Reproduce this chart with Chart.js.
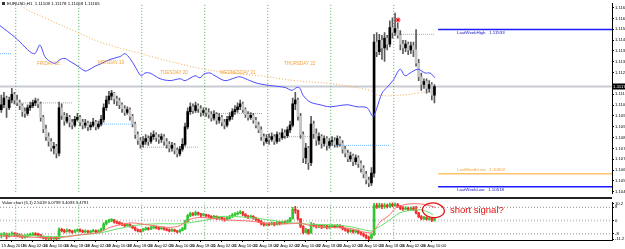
<!DOCTYPE html>
<html>
<head>
<meta charset="utf-8">
<script src="https://cdn.jsdelivr.net/npm/chart.js@4.4.0/dist/chart.umd.min.js"></script>
<style>
  html, body { margin: 0; padding: 0; background: #fff; }
  #wrap { width: 625px; height: 249px; overflow: hidden; }
  canvas { display: block; }
  #sep { width: 612px; height: 2px; background: #222; }
</style>
</head>
<body>
<div id="wrap">
  <canvas id="main" width="625" height="197"></canvas>
  <div id="sep"></div>
  <canvas id="sub" width="625" height="50"></canvas>
</div>
<script>
// --- EURUSD H1 candles, 15 Aug 18:00 -> 26 Aug 15:00 --- //
const opens = [1.11016,1.11047,1.11090,1.11028,1.11078,1.11115,1.11078,1.11059,1.11041,1.11003,1.10991,1.11028,1.11041,1.11059,1.11072,
  1.11053,1.10966,1.10891,1.10841,1.10810,1.10767,1.10779,1.10735,1.11028,1.10978,1.10941,1.10966,1.10935,1.10916,1.10953,
  1.10966,1.10935,1.10916,1.10928,1.10904,1.10916,1.10935,1.10904,1.10922,1.10953,1.11028,1.11078,1.11103,1.11122,1.11084,1.11072,1.11047,1.11022,1.10997,1.11016,1.10972,1.10922,1.10854,1.10816,
  1.10791,1.10810,1.10829,1.10810,1.10841,1.10854,1.10835,1.10823,1.10841,1.10810,1.10791,1.10767,1.10785,1.10754,1.10729,1.10760,1.10791,1.10904,1.11003,1.11034,1.11010,1.11041,1.11022,1.10997,
  1.11010,1.10997,1.10985,1.10960,1.10985,1.10947,1.10966,1.10935,1.10916,1.10953,1.10972,1.11003,1.11016,1.11034,1.11053,1.11016,1.10985,1.10966,1.10978,1.10947,1.10916,1.10885,1.10841,1.10810,
  1.10829,1.10823,1.10841,1.10810,1.10854,1.10835,1.10866,1.10847,1.10885,1.10916,1.11053,1.11078,1.10972,1.10854,1.10704,1.10767,1.10673,1.10922,1.10860,1.10816,1.10841,1.10798,1.10829,1.10785,
  1.10810,1.10816,1.10791,1.10829,1.10798,1.10760,1.10735,1.10698,1.10717,1.10679,1.10704,1.10667,1.10636,1.10598,1.10561,1.10542,1.10605,1.11452,1.11390,1.11464,1.11414,1.11477,1.11439,1.11545,
  1.11514,1.11539,1.11495,1.11439,1.11414,1.11439,1.11402,1.11427,1.11402,1.11315,1.11228,1.11178,1.11196,1.11153,1.11178,1.11109];
const highs = [1.11109,1.11128,1.11103,1.11097,1.11153,1.11128,1.11109,1.11078,1.11053,1.11028,1.11047,1.11065,1.11078,1.11090,1.11084,
  1.11065,1.10978,1.10916,1.10866,1.10829,1.10804,1.10791,1.11065,1.11053,1.10997,1.10991,1.10978,1.10953,1.10972,1.10991,
  1.10978,1.10953,1.10953,1.10941,1.10935,1.10960,1.10947,1.10941,1.10978,1.11053,1.11103,1.11134,1.11140,1.11128,1.11103,1.11090,1.11059,1.11041,1.11034,1.11028,1.10985,1.10935,1.10872,1.10835,
  1.10841,1.10854,1.10847,1.10866,1.10879,1.10866,1.10854,1.10860,1.10854,1.10829,1.10810,1.10804,1.10798,1.10767,1.10779,1.10829,1.10928,1.11028,1.11059,1.11053,1.11065,1.11053,1.11041,1.11028,
  1.11028,1.11022,1.11003,1.11010,1.10997,1.10991,1.10978,1.10953,1.10972,1.10997,1.11022,1.11041,1.11059,1.11078,1.11065,1.11028,1.11003,1.10997,1.10991,1.10966,1.10935,1.10904,1.10860,1.10854,
  1.10860,1.10866,1.10854,1.10872,1.10866,1.10891,1.10885,1.10904,1.10941,1.11090,1.11128,1.11090,1.10991,1.10872,1.10798,1.10779,1.10972,1.10941,1.10891,1.10866,1.10854,1.10847,1.10841,1.10829,
  1.10841,1.10835,1.10847,1.10841,1.10816,1.10779,1.10754,1.10742,1.10729,1.10723,1.10717,1.10685,1.10654,1.10617,1.10580,1.10642,1.11502,1.11514,1.11502,1.11495,1.11514,1.11495,1.11589,1.11608,
  1.11639,1.11576,1.11527,1.11464,1.11464,1.11452,1.11452,1.11452,1.11533,1.11340,1.11252,1.11215,1.11215,1.11203,1.11190,1.11178];
const lows = [1.10997,1.11028,1.10966,1.11016,1.11059,1.11053,1.11041,1.11016,1.10972,1.10966,1.10978,1.11010,1.11028,1.11041,1.11028,
  1.10941,1.10866,1.10816,1.10779,1.10748,1.10729,1.10704,1.10717,1.10953,1.10916,1.10928,1.10904,1.10891,1.10904,1.10941,
  1.10910,1.10891,1.10897,1.10879,1.10885,1.10904,1.10885,1.10891,1.10910,1.10935,1.11010,1.11053,1.11078,1.11053,1.11041,1.11022,1.10997,1.10978,1.10985,1.10947,1.10904,1.10829,1.10791,1.10767,
  1.10773,1.10791,1.10785,1.10798,1.10823,1.10810,1.10798,1.10804,1.10785,1.10767,1.10742,1.10748,1.10729,1.10710,1.10717,1.10748,1.10779,1.10891,1.10985,1.10991,1.10997,1.10997,1.10972,1.10978,
  1.10972,1.10960,1.10941,1.10947,1.10922,1.10928,1.10910,1.10891,1.10904,1.10941,1.10953,1.10985,1.10997,1.11016,1.10997,1.10966,1.10947,1.10953,1.10928,1.10897,1.10866,1.10816,1.10785,1.10798,
  1.10791,1.10810,1.10791,1.10798,1.10810,1.10823,1.10829,1.10835,1.10866,1.10904,1.11016,1.10947,1.10829,1.10673,1.10667,1.10629,1.10654,1.10829,1.10785,1.10791,1.10767,1.10779,1.10754,1.10767,
  1.10785,1.10773,1.10773,1.10779,1.10735,1.10710,1.10679,1.10679,1.10654,1.10661,1.10642,1.10611,1.10574,1.10536,1.10518,1.10524,1.10580,1.11358,1.11371,1.11340,1.11327,1.11402,1.11421,1.11477,
  1.11495,1.11477,1.11402,1.11377,1.11390,1.11371,1.11377,1.11358,1.11296,1.11203,1.11140,1.11153,1.11122,1.11128,1.11078,1.11059];
const closes = [1.11047,1.11090,1.11028,1.11078,1.11115,1.11078,1.11059,1.11041,1.11003,1.10991,1.11028,1.11041,1.11059,1.11072,1.11053,
  1.10966,1.10891,1.10841,1.10810,1.10767,1.10779,1.10735,1.11028,1.10978,1.10941,1.10966,1.10935,1.10916,1.10953,1.10966,
  1.10935,1.10916,1.10928,1.10904,1.10916,1.10935,1.10904,1.10922,1.10953,1.11028,1.11078,1.11103,1.11122,1.11084,1.11072,1.11047,1.11022,1.10997,1.11016,1.10972,1.10922,1.10854,1.10816,1.10791,
  1.10810,1.10829,1.10810,1.10841,1.10854,1.10835,1.10823,1.10841,1.10810,1.10791,1.10767,1.10785,1.10754,1.10729,1.10760,1.10791,1.10904,1.11003,1.11034,1.11010,1.11041,1.11022,1.10997,1.11010,
  1.10997,1.10985,1.10960,1.10985,1.10947,1.10966,1.10935,1.10916,1.10953,1.10972,1.11003,1.11016,1.11034,1.11053,1.11016,1.10985,1.10966,1.10978,1.10947,1.10916,1.10885,1.10841,1.10810,1.10829,
  1.10823,1.10841,1.10810,1.10854,1.10835,1.10866,1.10847,1.10885,1.10916,1.11053,1.11078,1.10972,1.10854,1.10704,1.10767,1.10673,1.10922,1.10860,1.10816,1.10841,1.10798,1.10829,1.10785,1.10810,
  1.10816,1.10791,1.10829,1.10798,1.10760,1.10735,1.10698,1.10717,1.10679,1.10704,1.10667,1.10636,1.10598,1.10561,1.10542,1.10605,1.11452,1.11390,1.11464,1.11414,1.11477,1.11439,1.11545,1.11514,
  1.11539,1.11495,1.11439,1.11414,1.11439,1.11402,1.11427,1.11402,1.11315,1.11228,1.11178,1.11196,1.11153,1.11178,1.11109,1.11165];

// moving averages (bar index, price)
const maBlueX = [-0.5,5.2,7.1,10.9,12.8,14.7,16.6,18.5,20.5,22.4,24.3,26.2,29.2,31.9,33.8,35.7,37.6,41.4,45.2,47.1,49.0,50.9,53.2,54.7,56.6,60.5,64.3,68.1,70.0,73.8,75.7,77.2,79.5,81.4,85.2,89.0,90.9,94.7,97.8,102.4,108.1,110.7,112.6,113.8,114.9,117.6,121.4,125.2,131.7,135.5,139.3,141.6,143.1,145.0,146.9,149.2,151.9,153.8,155.7,158.7,161.4,163.3,165.2];
const maBlueY = [1.11558,1.11483,1.11452,1.11390,1.11377,1.11433,1.11358,1.11327,1.11315,1.11340,1.11346,1.11327,1.11296,1.11265,1.11277,1.11296,1.11309,1.11340,1.11358,1.11377,1.11346,1.11296,1.11234,1.11252,1.11252,1.11215,1.11203,1.11215,1.11203,1.11234,1.11221,1.11246,1.11252,1.11234,1.11203,1.11221,1.11228,1.11203,1.11184,1.11171,1.11159,1.11140,1.11159,1.11153,1.11109,1.11065,1.11047,1.11034,1.11047,1.11034,1.11028,1.10972,1.11028,1.11122,1.11159,1.11203,1.11277,1.11234,1.11252,1.11277,1.11252,1.11252,1.11221];
const maOrangeX = [-0.5,9.0,16.6,29.2,37.6,53.2,64.3,77.2,87.1,98.5,111.9,125.2,140.5,143.5,151.9,158.7,163.3];
const maOrangeY = [1.11794,1.11670,1.11608,1.11514,1.11452,1.11377,1.11327,1.11277,1.11252,1.11234,1.11203,1.11184,1.11140,1.11109,1.11109,1.11122,1.11128];

// previous-day levels (dotted), weekly / monthly levels
const pivotFrom = [-0.5,5.2,30.7,53.2,77.6,101.2,125.2,150.0];
const pivotTo = [3.7,27.3,50.9,75.3,99.3,121.4,148.1,165.2];
const pivotPrice = [1.11377,1.11059,1.10922,1.10773,1.10991,1.10841,1.10785,1.11502];
const levelNames = ['LastWeekHigh', 'LastMonthLow', 'LastWeekLow'];
const levelPrices = [1.11533, 1.10602, 1.10518];
const dayNames = ['FRIDAY 16', 'MONDAY 19', 'TUESDAY 20', 'WEDNESDAY 21', 'THURSDAY 22'];
const dayNameX = [13.6, 36.8, 60.5, 83.3, 107.7];
const dayNameY = [1.11309, 1.11321, 1.11252, 1.11252, 1.11315];
const daySeparators = [5.5, 29.5, 53.5, 77.5, 101.5, 125.5, 149.5];
const fractalX = [151.1];
const fractalY = [1.11595];

const priceTicks = [1.11675,1.11605,1.11535,1.11465,1.11395,1.11325,1.11255,1.11115,1.11045,1.10975,1.10905,1.10835,1.10765,1.10695,1.10625,1.10555,1.10485];
const timeTicks = [0,8,16,24,32,40,48,56,64,72,80,88,96,104,112,120,128,136,144,152,160];
const timeLabels = ['15 Aug 2019','16 Aug 02:00','16 Aug 10:00','16 Aug 18:00','19 Aug 02:00','19 Aug 10:00','19 Aug 18:00',
  '20 Aug 02:00','20 Aug 10:00','20 Aug 18:00','21 Aug 02:00','21 Aug 10:00','21 Aug 18:00','22 Aug 02:00','22 Aug 10:00',
  '22 Aug 18:00','23 Aug 02:00','23 Aug 10:00','23 Aug 18:00','26 Aug 02:00','26 Aug 10:00'];

// --- Value chart sub window --- //
const vcOpen = [-9,-8.5,-8,-9.5,-8.5,-7.8,-8.6,-8.8,-9.2,-9.8,-9.5,-8.7,-8.4,-8.0,-8.2,
  -8.6,-9.8,-10.4,-10.6,-10.2,-10.8,-10.3,-10.9,-5.2,-6.0,-6.6,-5.8,-6.4,-6.9,-6.0,
  -5.6,-6.2,-6.6,-6.3,-6.9,-6.5,-6.0,-6.7,-6.2,-5.2,-2.0,-0.6,0.1,0.4,-0.8,-1.2,-1.9,-2.4,-3.0,-2.4,-3.3,-4.2,-5.6,-6.1,
  -6.3,-5.4,-4.6,-5.0,-4.2,-3.8,-4.4,-4.8,-4.3,-5.1,-5.6,-6.2,-5.6,-6.3,-6.8,-5.9,-4.8,-0.5,3.0,4.2,3.6,4.8,4.1,3.2,
  3.6,3.0,2.6,1.8,2.5,1.4,1.9,1.0,0.5,1.6,2.4,3.4,3.9,4.6,5.2,3.8,2.6,2.0,2.6,1.6,0.6,-0.4,-1.8,-2.6,
  -2.0,-2.2,-1.5,-2.4,-1.2,-1.8,-0.8,-1.4,-0.4,1.2,6.8,6.2,1.0,-3.4,-7.2,-5.6,-7.4,-2.2,-3.0,-3.8,-3.0,-4.0,-3.2,-4.2,
  -3.4,-3.0,-3.8,-2.8,-3.6,-4.8,-5.6,-6.6,-5.8,-6.8,-6.0,-7.2,-8.0,-9.0,-10.2,-10.6,-8.6,9.0,8.2,9.4,8.4,9.2,8.6,9.8,
  9.0,9.6,8.6,7.4,7.0,7.6,6.8,7.4,6.8,4.6,2.4,1.2,1.8,0.8,1.4,0.2];
const vcHigh = [-7.5,-7,-7.5,-7.5,-6.8,-7.2,-7.5,-8,-8.6,-8.5,-8,-7.6,-7.2,-7.3,-7.6,
  -8.3,-9.2,-9.6,-9.4,-9.6,-9.7,-9.8,-4.3,-4.6,-5.3,-5.0,-5.2,-5.8,-5.4,-4.9,
  -5.0,-5.5,-5.6,-5.8,-5.9,-5.3,-5.6,-5.6,-4.5,-1.2,0.2,0.9,1.2,0.6,-0.2,-0.6,-1.2,-1.8,-1.9,-2.0,-2.8,-3.8,-5.0,-5.3,
  -4.6,-3.9,-4.0,-3.4,-3.0,-3.3,-3.9,-3.6,-3.9,-4.6,-5.0,-4.8,-5.1,-5.8,-5.2,-4.0,0.3,3.8,5.2,4.8,5.8,5.2,4.4,4.4,
  4.0,3.6,3.0,3.2,2.8,2.6,2.2,1.6,2.4,3.2,4.2,4.8,5.4,6.0,5.6,4.2,3.2,3.4,3.0,2.0,1.2,0.2,-1.0,-1.4,
  -1.2,-0.8,-1.0,-0.5,-0.6,0.0,-0.2,0.4,2.0,8.0,8.6,6.4,1.2,-3.0,-4.6,-5.2,-1.0,-1.6,-2.4,-2.4,-2.6,-2.6,-2.8,-2.8,
  -2.4,-2.6,-2.2,-2.4,-3.2,-4.2,-5.0,-5.2,-5.4,-5.4,-5.6,-6.6,-7.4,-8.4,-9.4,-7.8,10.6,10.4,10.6,10.2,10.4,10.0,10.8,10.8,
  10.8,10.4,9.2,8.4,8.4,8.2,8.2,8.4,8.6,5.0,3.0,2.6,2.4,2.2,1.8,1.6];
const vcLow = [-10.5,-9.5,-11,-10,-9,-9.5,-9.8,-10.2,-10.8,-10.6,-10,-9.4,-9,-9,-9.4,
  -10.5,-11,-11.3,-11.5,-11.6,-11.4,-11.7,-11.2,-6.8,-7.4,-7.0,-7.2,-7.7,-7.3,-6.5,
  -6.9,-7.3,-7.1,-7.6,-7.3,-6.9,-7.4,-7.0,-6.6,-5.6,-2.6,-1.2,-0.6,-1.6,-2.0,-2.6,-3.1,-3.6,-3.4,-4.0,-4.8,-6.3,-6.8,-7.0,
  -6.6,-5.8,-5.7,-5.4,-4.7,-5.0,-5.6,-5.3,-5.8,-6.2,-6.9,-6.5,-6.9,-7.4,-7.1,-6.2,-5.4,-0.9,2.4,2.8,3.0,3.3,2.4,2.6,
  2.2,1.8,1.0,1.2,0.6,0.8,0.2,-0.4,0.0,1.0,1.8,2.8,3.4,4.0,3.0,1.8,1.2,1.4,0.8,-0.2,-1.2,-2.6,-3.4,-3.0,
  -3.0,-2.6,-3.2,-2.8,-2.6,-2.2,-2.0,-1.8,-0.8,0.8,4.4,0.2,-4.2,-8.0,-7.6,-8.4,-7.8,-3.8,-4.6,-4.2,-4.8,-4.4,-5.0,-4.8,
  -4.0,-4.4,-4.2,-4.4,-5.6,-6.4,-7.4,-7.2,-7.6,-7.4,-8.0,-8.8,-9.8,-11.0,-11.6,-11.2,-9.0,7.4,7.6,7.2,7.4,7.6,8.0,8.2,
  8.6,7.8,6.6,6.2,6.4,6.0,6.2,6.0,4.0,1.8,0.4,0.6,0.0,0.2,-0.6,-0.4];
const vcClose = [-8.5,-8,-9.5,-8.5,-7.8,-8.6,-8.8,-9.2,-9.8,-9.5,-8.7,-8.4,-8.0,-8.2,-8.6,
  -9.8,-10.4,-10.6,-10.2,-10.8,-10.3,-10.9,-5.2,-6.0,-6.6,-5.8,-6.4,-6.9,-6.0,-5.6,
  -6.2,-6.6,-6.3,-6.9,-6.5,-6.0,-6.7,-6.2,-5.2,-2.0,-0.6,0.1,0.4,-0.8,-1.2,-1.9,-2.4,-3.0,-2.4,-3.3,-4.2,-5.6,-6.1,-6.3,
  -5.4,-4.6,-5.0,-4.2,-3.8,-4.4,-4.8,-4.3,-5.1,-5.6,-6.2,-5.6,-6.3,-6.8,-5.9,-4.8,-0.5,3.0,4.2,3.6,4.8,4.1,3.2,3.6,
  3.0,2.6,1.8,2.5,1.4,1.9,1.0,0.5,1.6,2.4,3.4,3.9,4.6,5.2,3.8,2.6,2.0,2.6,1.6,0.6,-0.4,-1.8,-2.6,-2.0,
  -2.2,-1.5,-2.4,-1.2,-1.8,-0.8,-1.4,-0.4,1.2,6.8,6.2,1.0,-3.4,-7.2,-5.6,-7.4,-2.2,-3.0,-3.8,-3.0,-4.0,-3.2,-4.2,-3.4,
  -3.0,-3.8,-2.8,-3.6,-4.8,-5.6,-6.6,-5.8,-6.8,-6.0,-7.2,-8.0,-9.0,-10.2,-10.6,-8.6,9.0,8.2,9.4,8.4,9.2,8.6,9.8,9.0,
  9.6,8.6,7.4,7.0,7.6,6.8,7.4,6.8,4.6,2.4,1.2,1.8,0.8,1.4,0.2,1.0];
const vcFastX = [-0.5,7.1,14.7,22.4,30.0,37.6,41.4,49.0,52.8,60.5,64.3,68.1,71.9,75.7,79.5,87.1,94.7,102.4,110.0,113.8,117.6,125.2,132.8,136.6,140.5,142.4,144.3,148.1,150.0,153.8,157.6,161.4,165.2];
const vcFastY = [-9.1,-9.7,-10.2,-10.2,-8.6,-6.9,-4.1,-1.4,-1.9,-3.6,-4.1,-3.0,0.8,1.9,1.4,0.3,-0.3,-1.9,-1.9,-1.4,-3.0,-4.1,-4.7,-6.3,-7.4,-5.2,-0.8,3.6,7.4,9.7,10.2,9.7,8.0];
const vcSlowX = [-0.5,10.9,22.4,30.0,37.6,45.2,52.8,60.5,68.1,73.8,79.5,83.3,94.7,102.4,113.8,125.2,132.8,140.5,142.4,146.9,151.9,156.8,160.6,164.5];
const vcSlowY = [-8.0,-9.1,-9.7,-8.6,-7.4,-4.7,-2.5,-1.9,-1.9,-0.8,0.8,2.5,1.9,0.3,-1.9,-2.5,-3.6,-6.3,-5.2,-0.8,4.7,6.3,6.3,3.6];
const vcLevels = [8, 0, -8];
const vcTicks = [10.2, 8, 0, -8, -11.2];

const X_MIN = -0.5, X_MAX = 232.64;
const bars = closes.map((_, i) => i);
const pts = (xs, ys) => xs.map((x, k) => ({ x, y: ys[k] }));
const hline = (from, to, y) => [{ x: from, y }, { x: to, y }];
const font = (size) => ({ family: 'Liberation Sans', size });

const lineDs = (data, color, extra) => Object.assign({
    type: 'line', data, borderColor: color, borderWidth: 1, pointRadius: 0, pointHoverRadius: 0, fill: false, tension: 0
}, extra);

// --- Main price window --- //
const mainSets = [];
mainSets.push(lineDs(hline(X_MIN, X_MAX, closes[closes.length - 1]), '#c9ccd3', { borderWidth: 2, order: 20 }));
daySeparators.forEach(s => mainSets.push(lineDs([{ x: s, y: 1.10 }, { x: s, y: 1.12 }], '#4caf50', { borderDash: [1, 2], order: 19 })));
pivotPrice.forEach((p, k) => mainSets.push(lineDs(hline(pivotFrom[k], pivotTo[k], p), '#6fb6ff', { borderDash: [1, 1], order: 18 })));
mainSets.push(lineDs(pts(maOrangeX, maOrangeY), '#f7a84a', { borderDash: [1, 2], tension: 0.4, order: 17 }));
mainSets.push({
    type: 'bar', data: bars.map(i => ({ x: i, y: [lows[i], highs[i]] })),
    backgroundColor: '#5a5a5a', barThickness: 1, grouped: false, order: 6
});
mainSets.push({
    type: 'bar', data: bars.map(i => ({ x: i, y: [opens[i], closes[i]] })),
    backgroundColor: c => closes[c.dataIndex] >= opens[c.dataIndex] ? '#000000' : '#c4c4c4',
    barThickness: 2, grouped: false, minBarLength: 1, order: 5
});
mainSets.push(lineDs(pts(maBlueX, maBlueY), '#4b4bff', { tension: 0.3, order: 4 }));
levelPrices.forEach((p, k) => mainSets.push(lineDs(hline(166.4, X_MAX, p), k === 1 ? '#ffc46b' : '#1a1aff', { borderWidth: 1.5, order: 3 })));
mainSets.push(lineDs(pts(fractalX, fractalY), '#ff0000', { showLine: false, pointRadius: 2.5, pointStyle: 'star', borderWidth: 1, order: 1 }));

const mainText = {
    id: 'mainText',
    afterDatasetsDraw(chart) {
        const { ctx, scales: { x, y } } = chart;
        ctx.save();
        ctx.textBaseline = 'middle';
        ctx.font = '4.6px "Liberation Sans"';
        ctx.fillStyle = '#f2a23a';
        dayNames.forEach((t, k) => ctx.fillText(t, x.getPixelForValue(dayNameX[k]), y.getPixelForValue(dayNameY[k])));
        ctx.font = '4.4px "Liberation Sans"';
        levelNames.forEach((t, k) => {
            const py = y.getPixelForValue(levelPrices[k]);
            ctx.fillStyle = k === 1 ? '#f2a23a' : '#1010c0';
            ctx.textBaseline = k === 1 ? 'bottom' : 'top';
            ctx.fillText(t + '   ' + levelPrices[k].toFixed(5), x.getPixelForValue(173.6), k === 1 ? py - 2 : py + 1);
        });
        ctx.restore();
    },
    afterDraw(chart) {
        const { ctx, scales: { y } } = chart;
        ctx.save();
        ctx.font = '4.4px "Liberation Sans"';
        ctx.fillStyle = '#000';
        ctx.textBaseline = 'middle';
        ctx.fillText('EURUSD,H1  1.11109 1.11178 1.11059 1.11165', 7, 4);
        ctx.fillStyle = '#333';
        ctx.fillRect(2, 2, 3, 3);
        const last = closes[closes.length - 1];
        const py = y.getPixelForValue(last);
        ctx.fillStyle = '#000';
        ctx.fillRect(y.left, py - 3, 13, 6);
        ctx.fillStyle = '#fff';
        ctx.fillText(last.toFixed(4), y.left + 1, py);
        ctx.restore();
    }
};

new Chart(document.getElementById('main'), {
    type: 'bar',
    data: { datasets: mainSets },
    options: {
        responsive: false, animation: false, devicePixelRatio: 1,
        layout: { padding: 0, autoPadding: false },
        plugins: { legend: { display: false }, tooltip: { enabled: false } },
        scales: {
            x: { type: 'linear', min: X_MIN, max: X_MAX, offset: false, display: false },
            y: {
                position: 'right', min: 1.10474, max: 1.11701,
                afterFit: s => { s.width = 13; },
                afterBuildTicks: s => { s.ticks = priceTicks.map(v => ({ value: v })); },
                ticks: { autoSkip: false, padding: 1, color: '#000', font: font(4.2), callback: v => v.toFixed(4) },
                grid: { drawOnChartArea: false, tickLength: 2, color: '#000' },
                border: { color: '#000' }
            }
        }
    },
    plugins: [mainText]
});

// --- Value chart window --- //
const subSets = [];
vcLevels.forEach(v => subSets.push(lineDs(hline(X_MIN, X_MAX, v), v === 0 ? '#c8c8c8' : '#909090', { borderDash: [1, 2], borderWidth: v === 0 ? 2 : 1, order: 20 })));
daySeparators.forEach(s => subSets.push(lineDs([{ x: s, y: -20 }, { x: s, y: 20 }], '#4caf50', { borderDash: [1, 2], order: 19 })));
const vcColor = c => vcClose[c.dataIndex] >= vcOpen[c.dataIndex] ? '#2ec82e' : '#f03030';
subSets.push({
    type: 'bar', data: bars.map(i => ({ x: i, y: [vcLow[i], vcHigh[i]] })),
    backgroundColor: vcColor, barThickness: 1, grouped: false, order: 6
});
subSets.push({
    type: 'bar', data: bars.map(i => ({ x: i, y: [vcOpen[i], vcClose[i]] })),
    backgroundColor: vcColor, barThickness: 2, grouped: false, minBarLength: 1, order: 5
});
subSets.push(lineDs(pts(vcSlowX, vcSlowY), '#66e066', { tension: 0.3, order: 3 }));
subSets.push(lineDs(pts(vcFastX, vcFastY), '#ff7070', { tension: 0.3, order: 2 }));

const subText = {
    id: 'subText',
    afterDatasetsDraw(chart) {
        const { ctx, scales: { x, y } } = chart;
        ctx.save();
        // hand-drawn circle round the last bars
        const cx = x.getPixelForValue(164.6), cy = y.getPixelForValue(6.2);
        const rx = x.getPixelForValue(168.8) - cx, ry = y.getPixelForValue(6.2) - y.getPixelForValue(10.6);
        ctx.strokeStyle = '#e01010';
        ctx.lineWidth = 1.2;
        ctx.beginPath();
        ctx.ellipse(cx, cy, rx, ry, 0.1, Math.PI * 0.9, Math.PI * 3.0);
        ctx.stroke();
        ctx.fillStyle = '#e01010';
        ctx.font = '9.5px "Liberation Sans"';
        ctx.textBaseline = 'middle';
        ctx.fillText('short signal?', x.getPixelForValue(170.9), y.getPixelForValue(5.9));
        ctx.fillStyle = '#000';
        ctx.font = '4.2px "Liberation Sans"';
        ctx.fillText('Value chart (5,1) 2.5019 0.0799 3.4093 3.4791', 2, 4);
        ctx.restore();
    }
};

new Chart(document.getElementById('sub'), {
    type: 'bar',
    data: { datasets: subSets },
    options: {
        responsive: false, animation: false, devicePixelRatio: 1,
        layout: { padding: 0, autoPadding: false },
        plugins: { legend: { display: false }, tooltip: { enabled: false } },
        scales: {
            x: {
                type: 'linear', min: X_MIN, max: X_MAX, offset: false,
                afterFit: s => { s.height = 9; },
                afterBuildTicks: s => { s.ticks = timeTicks.map(v => ({ value: v })); },
                ticks: {
                    autoSkip: false, maxRotation: 0, align: 'start', padding: 1, color: '#000', font: font(4.2),
                    callback: v => timeLabels[timeTicks.indexOf(v)]
                },
                grid: { drawOnChartArea: false, tickLength: 2, color: '#000' },
                border: { color: '#000' }
            },
            y: {
                position: 'right', min: -11.7, max: 10.9,
                afterFit: s => { s.width = 13; },
                afterBuildTicks: s => { s.ticks = vcTicks.map(v => ({ value: v })); },
                ticks: { autoSkip: false, padding: 1, color: '#000', font: font(4.2) },
                grid: { drawOnChartArea: false, tickLength: 2, color: '#000' },
                border: { color: '#000' }
            }
        }
    },
    plugins: [subText]
});
</script>
</body>
</html>
